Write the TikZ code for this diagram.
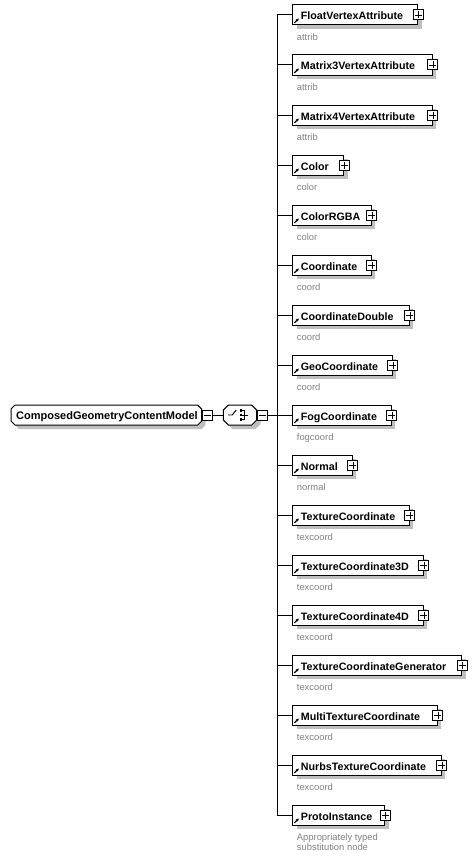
\documentclass[tikz,border=0pt]{standalone}
\usepackage{fontspec}
\setmainfont{Liberation Sans}
\usetikzlibrary{shadows,arrows.meta}

% outline with cut corners: x1, y1, x2, y2, cut
\newcommand{\octpath}[5]{(#1+#5,#2) -- (#3-#5,#2) -- (#3,#2+#5) -- (#3,#4-#5) -- (#3-#5,#4) -- (#1+#5,#4) -- (#1,#4-#5) -- (#1,#2+#5) -- cycle}

\begin{document}
\begin{tikzpicture}[x=1pt,y=-1pt,
    box/.style={draw, line width=1pt, fill=white, minimum height=20pt, inner sep=0pt, anchor=west,
      general shadow={fill=black!25, shadow xshift=4pt, shadow yshift=-4pt}},
    holder/.style={minimum height=20pt, inner sep=0pt, anchor=west},
    btn/.style={draw, line width=1pt, fill=white, minimum size=10pt, inner sep=0pt},
    elname/.style={anchor=base west, inner sep=0pt, font=\bfseries\fontsize{10.7}{12}\selectfont},
    note/.style={anchor=north west, inner sep=0pt, text=black!50, align=left, font=\fontsize{9.4}{10}\selectfont},
    wire/.style={line width=1pt}]
  \useasboundingbox (0,0) rectangle (475,859);

  % Child elements of the sequence
  \foreach \nm/\rx/\nt [count=\i] in {FloatVertexAttribute/417/attrib,
      Matrix3VertexAttribute/431.7/attrib, Matrix4VertexAttribute/431.7/attrib,
      Color/343.3/color, ColorRGBA/370.7/color, Coordinate/370.7/coord,
      CoordinateDouble/408.7/coord, GeoCoordinate/391.7/coord, FogCoordinate/390.7/fogcoord,
      Normal/351.7/normal, TextureCoordinate/408.7/texcoord, TextureCoordinate3D/422.7/texcoord,
      TextureCoordinate4D/422.7/texcoord, TextureCoordinateGenerator/461/texcoord,
      MultiTextureCoordinate/436.7/texcoord, NurbsTextureCoordinate/440.7/texcoord,
      ProtoInstance/384.3/{Appropriately typed\\substitution node}}{
    \pgfmathsetmacro{\yc}{15+50*(\i-1)}
    \pgfmathsetmacro{\bw}{\rx-292.3}
    \coordinate (t\i) at (277.3,\yc);
    \node[box, minimum width=\bw pt] (e\i) at (292.3,\yc) {};
    \node[elname] (n\i) at (300.7,\yc+5) {\nm};
    \draw[-{Stealth[length=3pt,width=3pt]}, line width=1.2pt] ([shift={(2,-2.5)}]e\i.south west) -- ++(4.5,-4.5);
    \node[btn] (b\i) at (e\i.east) {};
    \draw ([xshift=2pt]b\i.west) -- ([xshift=-2pt]b\i.east);
    \draw ([yshift=-2pt]b\i.north) -- ([yshift=2pt]b\i.south);
    \node[note] (c\i) at (296.7,\yc+18.3) {\nt};
    \draw[wire] (t\i) -- (e\i.west);
  }
  \draw[wire] (t1) -- (t17);

  % Root element
  \fill[black!25] \octpath{15}{409}{205.7}{429}{4};
  \draw[line width=1pt, fill=white] \octpath{11}{405}{201.7}{425}{4};
  \node[holder, minimum width=190.7pt] (root) at (11,415) {};
  \node[elname, font=\bfseries\fontsize{11}{12}\selectfont] (rootname) at (16,419.5) {ComposedGeometryContentModel};
  \node[btn] (rootbtn) at (207.7,415) {};
  \draw ([xshift=2pt]rootbtn.west) -- ([xshift=-2pt]rootbtn.east);

  % Sequence
  \fill[black!25] \octpath{227.3}{409}{260.7}{429}{5};
  \draw[line width=1pt, fill=white] \octpath{223.3}{405}{256.7}{425}{5};
  \node[holder, minimum width=33.4pt] (seq) at (223.3,415) {};
  \node[btn] (seqbtn) at (262.5,415) {};
  \draw ([xshift=2pt]seqbtn.west) -- ([xshift=-2pt]seqbtn.east);
  \draw[wire] (rootbtn.east) -- (seq.west);
  \draw[wire] (seqbtn.east) -- (t9);

  % Sequence symbol
  \begin{scope}[shift={(seq.center)}]
    \draw[line width=0.9pt] (-12,0) -- (-8,0) -- (-4,-5);
    \foreach \sy in {-4.5,0,4.5}
      \fill (-0.5,\sy-1.25) rectangle (2,\sy+1.25);
    \draw[line width=0.9pt] (2,-4.5) -- (4.5,-4.5) -- (4.5,4.5) -- (2,4.5);
    \draw[line width=0.9pt] (2,0) -- (8,0);
  \end{scope}
\end{tikzpicture}
\end{document}
